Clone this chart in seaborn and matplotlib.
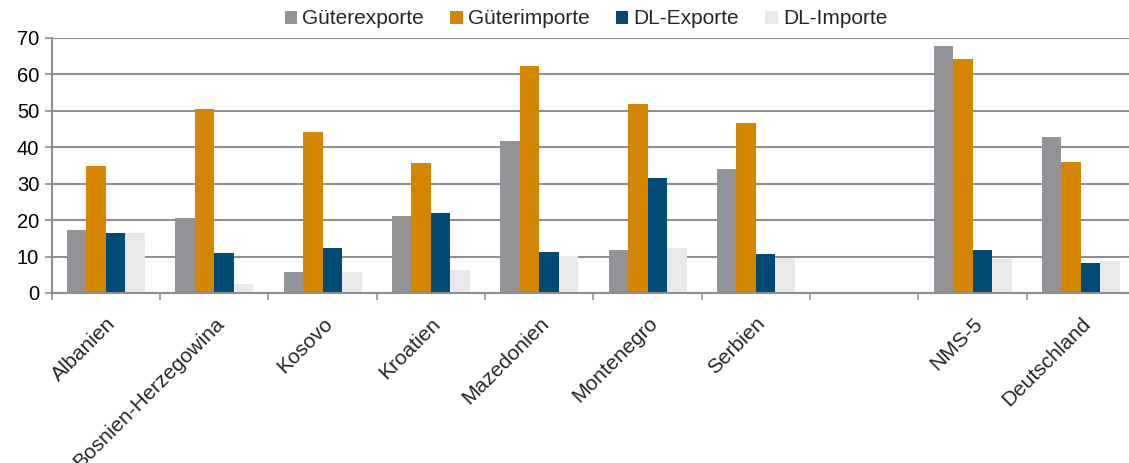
import numpy as np
import pandas as pd
import matplotlib
matplotlib.use("Agg")
import matplotlib.pyplot as plt
import seaborn as sns
from matplotlib.patches import Patch
from matplotlib.ticker import MultipleLocator, FixedLocator

categories = ["Albanien", "Bosnien-Herzegowina", "Kosovo", "Kroatien", "Mazedonien",
              "Montenegro", "Serbien", " ", "NMS-5", "Deutschland"]
series = ["Güterexporte", "Güterimporte", "DL-Exporte", "DL-Importe"]
gueterexporte = [17.4, 20.6, 5.8, 21.1, 41.7, 11.9, 34.1, np.nan, 67.8, 42.8]
gueterimporte = [35.0, 50.5, 44.1, 35.6, 62.3, 51.8, 46.6, np.nan, 64.3, 35.9]
dl_exporte = [16.6, 11.0, 12.4, 22.0, 11.2, 31.6, 10.6, np.nan, 11.7, 8.2]
dl_importe = [16.6, 2.4, 5.7, 6.2, 10.1, 12.3, 9.6, np.nan, 9.2, 8.7]
colors = ["#939397", "#D58600", "#004A73", "#E7E8EA"]

values = [gueterexporte, gueterimporte, dl_exporte, dl_importe]
rows = []
for s, vals in zip(series, values):
    for c, v in zip(categories, vals):
        rows.append({"Land": c, "Serie": s, "Wert": v})
df = pd.DataFrame(rows)

sns.set_theme(style="white")
plt.rcParams["font.family"] = ["Liberation Sans", "DejaVu Sans"]

fig = plt.figure(figsize=(11.29, 4.63), dpi=100)
ax = fig.add_axes([51.7 / 1129, 1 - 293 / 463, (1135 - 51.7) / 1129, (293 - 38) / 463])

sns.barplot(data=df, x="Land", y="Wert", hue="Serie", order=categories,
            hue_order=series, palette=colors, width=0.72, ax=ax,
            saturation=1, legend=False, errorbar=None, linewidth=0)

ax.set_ylim(0, 70)
ax.set_xlim(-0.5, len(categories) - 0.5)
ax.yaxis.set_major_locator(MultipleLocator(10))
ax.set_xlabel("")
ax.set_ylabel("")
ax.grid(axis="y", color="#8f8f8f", linewidth=1.5)
ax.set_axisbelow(True)
for side in ["top", "right"]:
    ax.spines[side].set_visible(False)
for side in ["left", "bottom"]:
    ax.spines[side].set_color("#8f8f8f")
    ax.spines[side].set_linewidth(1.5)

ax.tick_params(axis="y", which="major", left=True, length=5, width=1.2,
               color="#8f8f8f", labelsize=14.5, labelcolor="black", pad=4)
ax.set_xticks(range(len(categories)))
ax.set_xticklabels(categories, rotation=45, ha="right", rotation_mode="anchor",
                   fontsize=15)
ax.tick_params(axis="x", which="major", bottom=False, pad=9)
ax.xaxis.set_minor_locator(FixedLocator(np.arange(-0.5, len(categories), 1.0)))
ax.tick_params(axis="x", which="minor", bottom=True, length=5, width=1.2,
               color="#8f8f8f")

handles = [Patch(facecolor=c, edgecolor="none") for c in colors]
fig.legend(handles, series, loc="center", bbox_to_anchor=(0.519, 1 - 19 / 463),
           ncol=4, frameon=False, fontsize=15, handlelength=0.6,
           handleheight=0.6, handletextpad=0.25, columnspacing=1.25)

fig.savefig("out.png", dpi=100)
